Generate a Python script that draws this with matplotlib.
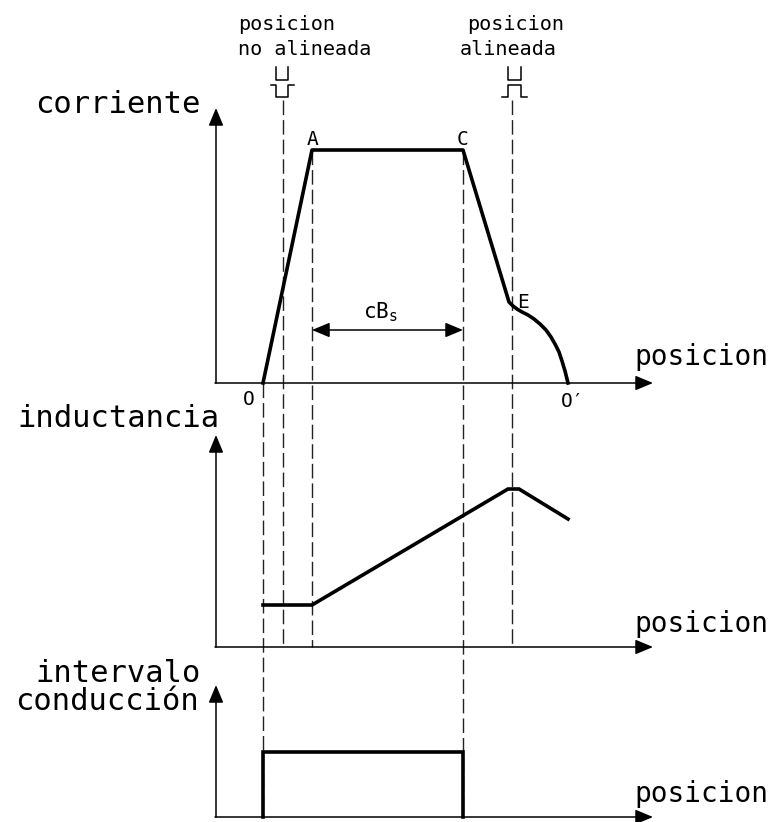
import matplotlib.pyplot as plt

# posiciones caracteristicas sobre el eje de posicion
pos_O = 263
pos_no_alin = 283
pos_A = 312
pos_C = 463
pos_alin = 512
pos_O2 = 568

# corriente (altura sobre el eje)
corr_x = [263, 312, 463, 509, 513, 517, 522, 528, 534, 540, 546, 551,
          555, 559, 562, 565, 568]
corr_val = [0, 233, 233, 81, 77, 74, 71, 68, 64, 59, 53, 46,
            39, 31, 22, 12, 0]

# inductancia (altura sobre el eje)
ind_x = [263, 312, 508, 519, 568]
ind_val = [42, 42, 158, 158, 128]

# intervalo de conduccion
cond_x = [263, 263, 463, 463]
cond_val = [0, 65, 65, 0]

# bases de cada grafica
y_corr = 383
y_ind = 647
y_cond = 817
x_eje = 216
x_fin = 653

fig = plt.figure(figsize=(7.74, 8.22), dpi=100)
ax = fig.add_axes([0, 0, 1, 1])
ax.set_xlim(0, 774)
ax.set_ylim(822, 0)
ax.axis('off')

fuente = 'DejaVu Sans Mono'
flecha = dict(arrowstyle='-|>,head_length=0.72,head_width=0.3', lw=1.1,
              color='k', shrinkA=0, shrinkB=0, mutation_scale=15)


def eje(y0, y_tope):
    ax.annotate('', xy=(x_eje, y_tope), xytext=(x_eje, y0), arrowprops=flecha)
    ax.annotate('', xy=(x_fin, y0), xytext=(x_eje - 1, y0), arrowprops=flecha)


eje(y_corr, 108)
eje(y_ind, 435)
eje(y_cond, 685)

# lineas de referencia discontinuas
guias = [(pos_O, y_corr, y_cond), (pos_no_alin, 100, y_ind),
         (pos_A, 150, y_ind), (pos_C, 150, y_cond), (pos_alin, 100, y_ind)]
for x, ya, yb in guias:
    ax.plot([x, x], [ya, yb], color='#222222', lw=1.0, dashes=(10.5, 3.6))

# curvas
ax.plot(corr_x, [y_corr - v for v in corr_val], color='k', lw=2.6,
        solid_joinstyle='round')
ax.plot(ind_x, [y_ind - v for v in ind_val], color='k', lw=2.6,
        solid_joinstyle='miter')
ax.plot(cond_x, [y_cond - v for v in cond_val], color='k', lw=2.6,
        solid_joinstyle='miter')

# simbolos de pulso
ax.plot([276, 276, 288, 288], [67, 80, 80, 67], color='k', lw=1.1)
ax.plot([271, 276, 276, 288, 288, 294], [85, 85, 97, 97, 85, 85], color='k', lw=1.1)
ax.plot([508, 508, 521, 521], [67, 80, 80, 67], color='k', lw=1.1)
ax.plot([502, 508, 508, 521, 521, 527], [97, 97, 85, 85, 97, 97], color='k', lw=1.1)

# cota cBs
ax.annotate('', xy=(pos_A, 330), xytext=(pos_C, 330),
            arrowprops=dict(arrowstyle='<|-|>,head_length=0.72,head_width=0.3',
                            lw=1.1, color='k', shrinkA=0, shrinkB=0,
                            mutation_scale=15))
ax.text(363, 318, r'cB$_\mathregular{s}$', fontsize=15, family=fuente, va='baseline')

# textos
grande = 22
ax.text(35, 113, 'corriente', fontsize=grande, family=fuente, va='baseline')
ax.text(17, 427, 'inductancia', fontsize=grande, family=fuente, va='baseline')
ax.text(35, 682, 'intervalo', fontsize=grande, family=fuente, va='baseline')
ax.text(15, 710, 'conducción', fontsize=grande, family=fuente, va='baseline')
for yb in (365, 632, 802):
    ax.text(634, yb, 'posicion', fontsize=20, family=fuente, va='baseline')

chico = 14.5
ax.text(238, 30, 'posicion', fontsize=chico, family=fuente, va='baseline')
ax.text(238, 55, 'no alineada', fontsize=chico, family=fuente, va='baseline')
ax.text(467, 30, 'posicion', fontsize=chico, family=fuente, va='baseline')
ax.text(460, 55, 'alineada', fontsize=chico, family=fuente, va='baseline')

letra = 14
ax.text(313, 145, 'A', fontsize=letra, family=fuente, va='baseline', ha='center')
ax.text(463, 145, 'C', fontsize=letra, family=fuente, va='baseline', ha='center')
ax.text(517, 308, 'E', fontsize=letra, family=fuente, va='baseline')
ax.text(243, 405, 'O', fontsize=letra, family=fuente, va='baseline')
ax.text(561, 407, 'O′', fontsize=letra, family=fuente, va='baseline')

fig.savefig('out.png', dpi=100)
